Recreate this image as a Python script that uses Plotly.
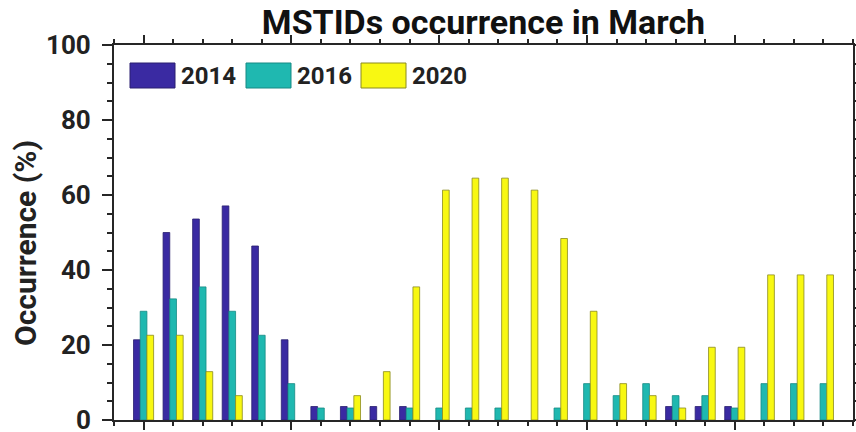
import plotly.graph_objects as go

groups = list(range(1, 25))
years = ["2014", "2016", "2020"]
occ_2014 = [21.4, 50.0, 53.6, 57.1, 46.4, 21.4, 3.6, 3.6, 3.6, 3.6, 0, 0,
            0, 0, 0, 0, 0, 0, 3.6, 3.6, 3.6, 0, 0, 0]
occ_2016 = [29.0, 32.3, 35.5, 29.0, 22.6, 9.7, 3.2, 3.2, 0, 3.2, 3.2, 3.2,
            3.2, 0, 3.2, 9.7, 6.5, 9.7, 6.5, 6.5, 3.2, 9.7, 9.7, 9.7]
occ_2020 = [22.6, 22.6, 12.9, 6.5, 0, 0, 0, 6.5, 12.9, 35.5, 61.3, 64.5,
            64.5, 61.3, 48.4, 29.0, 9.7, 6.5, 3.2, 19.4, 19.4, 38.7, 38.7, 38.7]
y_ticks = [0, 20, 40, 60, 80, 100]
title = "MSTIDs occurrence in March"
y_title = "Occurrence (%)"

colors = ["#3a2aa2", "#1fb8b0", "#f8f812"]
edges = ["#2a1f70", "#178a84", "#8a8a20"]
series = [occ_2014, occ_2016, occ_2020]

W, H = 856, 432
ml, mr, mt, mb = 114, 3, 45, 12
FONT = "Roboto"
TXT = "#222222"

fig = go.Figure()
for name, vals, c, ec in zip(years, series, colors, edges):
    fig.add_trace(go.Bar(x=groups, y=vals, name=name,
                         marker=dict(color=c, line=dict(color=ec, width=[0 if v == 0 else 0.8 for v in vals])),
                         showlegend=False))

axis_common = dict(showline=True, linecolor="#262626", linewidth=2, mirror="ticks", automargin=False,
                   ticks="outside", tickcolor="#262626", tickwidth=2, showgrid=False, zeroline=False)

fig.update_layout(
    template="none",
    width=W, height=H,
    margin=dict(l=ml, r=mr, t=mt, b=mb, pad=0),
    paper_bgcolor="white", plot_bgcolor="white",
    barmode="group", bargap=0.32, bargroupgap=0,
    font=dict(family=FONT, color=TXT),
    title=dict(text=title, x=(ml + (W - mr)) / 2 / W, xanchor="center", y=1 - 22 / H, yanchor="middle",
               font=dict(family=FONT, size=34, weight="bold", color="#111111")),
    xaxis=dict(range=[0, 25], tick0=1, dtick=5, ticklen=8, showticklabels=False,
               minor=dict(dtick=1, tick0=0, ticklen=4, ticks="outside", tickcolor="#262626", tickwidth=2),
               **axis_common),
    yaxis=dict(range=[0, 100], tickvals=y_ticks, ticklen=10, ticklabelstandoff=6,
               ticklabeloverflow="allow",
               tickfont=dict(family=FONT, size=26, weight="bold", color=TXT),
               minor=dict(dtick=5, ticklen=5, ticks="outside", tickcolor="#262626", tickwidth=2),
               **axis_common),
)

# pixel -> paper conversion for text and legend placement
pw = W - ml - mr
ph = H - mt - mb
def px(x):
    return (x - ml) / pw
def py(y):
    return (H - mb - y) / ph

# y-axis title
fig.add_annotation(xref="paper", yref="paper", x=px(25), y=py(243), text=y_title, textangle=-90,
                   showarrow=False, xanchor="center", yanchor="middle",
                   font=dict(family=FONT, size=30, weight="bold", color=TXT))

# custom legend with large swatches
sw_left = [130, 246, 361]
for name, c, ec, xl in zip(years, colors, edges, sw_left):
    fig.add_shape(type="rect", xref="paper", yref="paper",
                  x0=px(xl), x1=px(xl + 45), y0=py(88), y1=py(63),
                  fillcolor=c, line=dict(color=ec, width=1))
    fig.add_annotation(xref="paper", yref="paper", x=px(xl + 49), y=py(76), text=name,
                       showarrow=False, xanchor="left", yanchor="middle",
                       font=dict(family=FONT, size=24, weight="bold", color=TXT))

fig.write_html("out.html")
